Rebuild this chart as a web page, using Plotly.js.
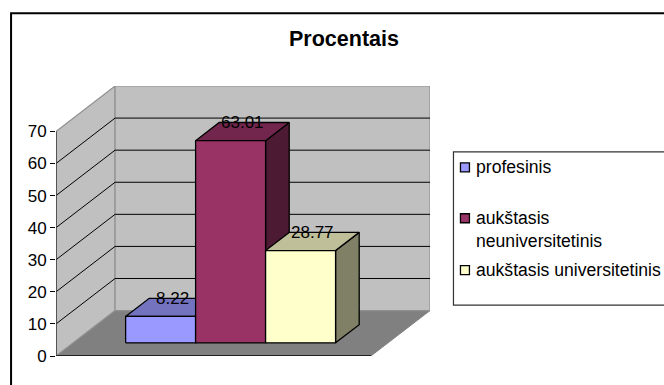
<!DOCTYPE html>
<html>
<head>
<meta charset="utf-8">
<script src="https://cdn.plot.ly/plotly-3.0.1.min.js"></script>
<style>html,body{margin:0;padding:0;background:#fff;overflow:hidden}#chart{width:664px;height:385px}</style>
</head>
<body>
<div id="chart"></div>
<script>
// Education level shares, drawn as an oblique 3D column chart.
const chartTitle = 'Procentais';
const categories = ['profesinis', 'aukštasis<br>neuniversitetinis', 'aukštasis universitetinis'];
const values = [8.22, 63.01, 28.77];
const valueLabels = ['8.22', '63.01', '28.77'];
const tickValues = [0, 10, 20, 30, 40, 50, 60, 70];
const tickLabels = ['0', '10', '20', '30', '40', '50', '60', '70'];
const frontColors = ['#9999FF', '#993366', '#FFFFCC'];
const topColors = ['#7373BF', '#73264D', '#BFBF99'];
const sideColors = ['#4D4D80', '#4D1A33', '#808066'];

// Box proportions of the scene, in column widths (x) and axis units (y).
const gap = 0.75;
const floorWidth = categories.length + 2 * gap;
const maxValue = 70;
const depthX = 0.844, depthY = 14.16;
const barDepth = 0.4;
const barFront = 0.29;

// Oblique projection: position along the floor, value, and depth (0 front .. 1 back).
const P = (x, v, d) => [x + d * depthX, v + d * depthY];

function poly(points, fill, lineColor, width) {
  const xs = points.map(p => p[0]), ys = points.map(p => p[1]);
  return {
    type: 'scatter', mode: 'lines', x: xs, y: ys, cliponaxis: false,
    fill: fill ? 'toself' : 'none', fillcolor: fill || undefined,
    line: {color: lineColor, width: width}, hoverinfo: 'skip', showlegend: false
  };
}

const traces = [];
// Floor and walls
traces.push(poly([P(0,0,0), P(floorWidth,0,0), P(floorWidth,0,1), P(0,0,1), P(0,0,0)], '#808080', '#808080', 1));
traces.push(poly([P(0,0,0), P(0,0,1), P(0,maxValue,1), P(0,maxValue,0), P(0,0,0)], '#C0C0C0', '#909090', 1.2));
traces.push(poly([P(0,0,1), P(floorWidth,0,1), P(floorWidth,maxValue,1), P(0,maxValue,1), P(0,0,1)], '#C0C0C0', '#909090', 1.2));

// Gridlines along the side wall and across the back wall
tickValues.filter(v => v > 0 && v < maxValue).forEach(v => {
  traces.push(poly([P(0,v,0), P(0,v,1), P(floorWidth,v,1)], null, '#000000', 1));
});

// Value axis and front floor edge
traces.push(poly([P(0,0,0), P(floorWidth,0,0)], null, '#000000', 1.3));
traces.push(poly([P(0,0,0), P(0,maxValue,0)], null, '#404040', 1.6));

// Columns, left to right so that each one overlaps the previous
const annotations = [];
values.forEach((val, i) => {
  const x0 = gap + i, x1 = x0 + 1;
  const dF = barFront, dB = barFront + barDepth;
  traces.push(poly([P(x1,0,dF), P(x1,0,dB), P(x1,val,dB), P(x1,val,dF), P(x1,0,dF)], sideColors[i], '#000000', 1.3));
  traces.push(poly([P(x0,val,dF), P(x1,val,dF), P(x1,val,dB), P(x0,val,dB), P(x0,val,dF)], topColors[i], '#000000', 1.3));
  traces.push(poly([P(x0,0,dF), P(x1,0,dF), P(x1,val,dF), P(x0,val,dF), P(x0,0,dF)], frontColors[i], '#000000', 1.3));
});
values.forEach((val, i) => {
  const c = P(gap + i + 0.5, val, barFront + barDepth);
  annotations.push({
    x: c[0] - 0.5 * barDepth * depthX, y: c[1], xref: 'x', yref: 'y', text: valueLabels[i],
    showarrow: false, xanchor: 'center', yanchor: 'middle',
    font: {size: 17, color: '#000000'}
  });
});

const W = 664, H = 385;
const m = {l: 55.5, r: W - 430, t: 85.5, b: H - 356};
const px = x => (x - m.l) / (W - m.l - m.r);
const py = y => (H - m.b - y) / (H - m.t - m.b);

// Outer frame and legend box run past the window's right and bottom edges
const shapes = [
  {type: 'rect', xref: 'paper', yref: 'paper', x0: px(10.5), x1: px(700), y0: py(12.5), y1: py(420),
   line: {color: '#000000', width: 2}, fillcolor: 'rgba(0,0,0,0)', layer: 'below'},
  {type: 'rect', xref: 'paper', yref: 'paper', x0: px(453.5), x1: px(700), y0: py(151.5), y1: py(305),
   line: {color: '#333333', width: 1.2}, fillcolor: '#FFFFFF', layer: 'below'}
];

const legendRows = [167, 218, 270];
const legendTextY = [167, 229, 269.5];
categories.forEach((name, i) => {
  shapes.push({type: 'rect', xref: 'paper', yref: 'paper',
    x0: px(460.5), x1: px(469.5), y0: py(legendRows[i] - 4.5), y1: py(legendRows[i] + 4.5),
    fillcolor: frontColors[i], line: {color: '#000000', width: 1.3}});
  annotations.push({xref: 'paper', yref: 'paper', x: px(474.5), y: py(legendTextY[i]),
    text: name, showarrow: false, xanchor: 'left', yanchor: 'middle', align: 'left',
    font: {size: 17.6, color: '#000000'}});
});

const layout = {
  width: W, height: H, margin: m,
  paper_bgcolor: '#FFFFFF', plot_bgcolor: 'rgba(0,0,0,0)',
  font: {family: 'Liberation Sans, Arial, sans-serif', color: '#000000'},
  title: {text: '<b>' + chartTitle + '</b>', xref: 'container', yref: 'container',
    x: 344 / W, y: 1 - 38 / H, xanchor: 'center', yanchor: 'middle',
    font: {size: 21.5, color: '#000000'}},
  xaxis: {range: [0, floorWidth + depthX], visible: false, fixedrange: true},
  yaxis: {range: [0, maxValue + depthY], tickmode: 'array', tickvals: tickValues, ticktext: tickLabels,
    ticks: 'outside', ticklen: 5, tickcolor: '#000000', tickwidth: 1,
    showgrid: false, zeroline: false, showline: false, fixedrange: true,
    tickfont: {size: 17, color: '#000000'}},
  shapes: shapes, annotations: annotations, showlegend: false
};
Plotly.newPlot('chart', traces, layout, {displayModeBar: false, staticPlot: true});
</script>
</body>
</html>
